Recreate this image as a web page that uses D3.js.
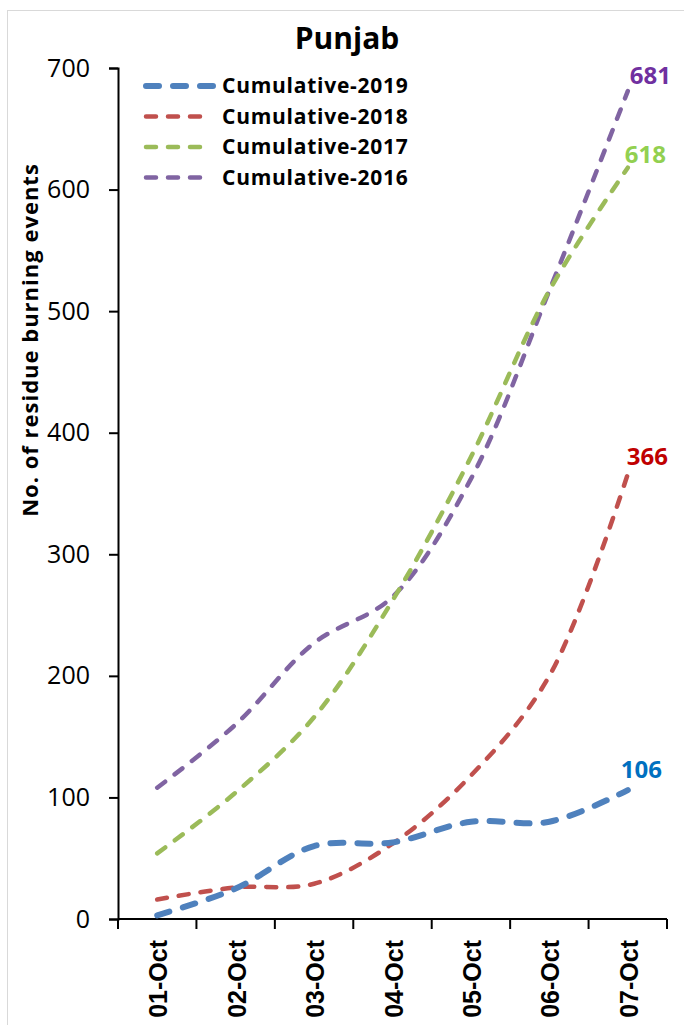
<!DOCTYPE html>
<html>
<head>
<meta charset="utf-8">
<script src="https://cdn.jsdelivr.net/npm/d3@7"></script>
<style>
  html, body { margin: 0; padding: 0; background: #fff; }
  svg { display: block; }
</style>
</head>
<body>
<svg id="chart" width="684" height="1025"></svg>
<script>
// Cumulative residue burning events, Punjab, 1–7 October
const days = ["01-Oct", "02-Oct", "03-Oct", "04-Oct", "05-Oct", "06-Oct", "07-Oct"];
const cum2019 = [3, 25, 60, 63, 80, 80, 106];
const cum2018 = [16, 26, 29, 62, 118, 200, 366];
const cum2017 = [54, 104, 166, 262, 380, 517, 618];
const cum2016 = [108, 160, 227, 265, 362, 517, 681];
const yTicks = [0, 100, 200, 300, 400, 500, 600, 700];

const FONT = "'Open Sans', 'Noto Sans', sans-serif";

const series = [
  { name: "Cumulative-2019", values: cum2019, color: "#4F81BD", label: "#0070C0", width: 6, dash: "13 14", ldx: -7, ldy: -12 },
  { name: "Cumulative-2018", values: cum2018, color: "#C0504D", label: "#C00000", width: 4.5, dash: "10 12", ldx: -1, ldy: -9 },
  { name: "Cumulative-2017", values: cum2017, color: "#9BBB59", label: "#92D050", width: 4.5, dash: "10 12", ldx: -3, ldy: -5 },
  { name: "Cumulative-2016", values: cum2016, color: "#8064A2", label: "#7030A0", width: 4.5, dash: "10 12", ldx: 2, ldy: -7 }
];

const svg = d3.select("#chart");
const plotLeft = 118, plotRight = 667, plotTop = 68, plotBottom = 919;

// outer chart frame
svg.append("rect")
  .attr("x", 7.5).attr("y", 10.5)
  .attr("width", 700).attr("height", 1030)
  .attr("fill", "none").attr("stroke", "#d9d9d9").attr("stroke-width", 1);

const x = d3.scaleBand().domain(days).range([plotLeft, plotRight]);
const y = d3.scaleLinear().domain([0, 700]).range([plotBottom, plotTop]);

// title
svg.append("text")
  .attr("x", 347).attr("y", 49)
  .attr("text-anchor", "middle")
  .attr("font-family", FONT)
  .attr("font-weight", "bold").attr("font-size", 30)
  .text("Punjab");

// y axis
const yAxis = svg.append("g")
  .attr("transform", `translate(${plotLeft},0)`)
  .call(d3.axisLeft(y).tickValues(yTicks).tickSize(9).tickPadding(19).tickFormat(d3.format("d")));
yAxis.select(".domain").attr("stroke", "#000").attr("stroke-width", 2);
yAxis.selectAll(".tick line").attr("stroke", "#000").attr("stroke-width", 2);
yAxis.selectAll(".tick text")
  .attr("font-family", FONT).attr("font-size", 25).attr("fill", "#000");

// x axis with ticks at band edges
const xAxis = svg.append("g")
  .attr("transform", `translate(0,${plotBottom})`)
  .call(d3.axisBottom(x).tickSize(0).tickPadding(0));
xAxis.select(".domain").attr("stroke", "#000").attr("stroke-width", 2).attr("d", `M${plotLeft},0H${plotRight}`);
xAxis.selectAll(".tick text").remove();
const edges = days.map(d => x(d)).concat([plotRight]);
xAxis.selectAll("line.edge").data(edges).join("line")
  .attr("class", "edge")
  .attr("x1", d => d).attr("x2", d => d)
  .attr("y1", 0).attr("y2", 10)
  .attr("stroke", "#000").attr("stroke-width", 2);
xAxis.selectAll("text.day").data(days).join("text")
  .attr("class", "day")
  .attr("transform", d => `translate(${x(d) + x.bandwidth() / 2 + 10},21) rotate(-90)`)
  .attr("text-anchor", "end")
  .attr("font-family", "'Liberation Sans', Arial, sans-serif")
  .attr("font-weight", "bold").attr("font-size", 25)
  .attr("fill", "#000")
  .text(d => d);

// y axis title
svg.append("text")
  .attr("transform", "translate(38,340) rotate(-90)")
  .attr("text-anchor", "middle")
  .attr("font-family", FONT)
  .attr("font-weight", "bold").attr("font-size", 22)
  .attr("letter-spacing", 1)
  .text("No. of residue burning events");

// lines
const cx = d => x(d) + x.bandwidth() / 2;
const line = d3.line()
  .x((v, i) => cx(days[i]))
  .y(v => y(v))
  .curve(d3.curveCatmullRom.alpha(0.5));

series.slice().reverse().forEach(s => {
  svg.append("path")
    .datum(s.values)
    .attr("d", line)
    .attr("fill", "none")
    .attr("stroke", s.color)
    .attr("stroke-width", s.width)
    .attr("stroke-dasharray", s.dash)
    .attr("stroke-linecap", "round");
});

// end-point value labels
series.forEach(s => {
  const last = s.values[s.values.length - 1];
  svg.append("text")
    .attr("x", cx(days[days.length - 1]) + s.ldx)
    .attr("y", y(last) + s.ldy)
    .attr("font-family", FONT)
    .attr("font-weight", "bold").attr("font-size", 24)
    .attr("fill", s.label)
    .text(last);
});

// legend
const legend = svg.append("g");
series.forEach((s, i) => {
  const ly = 86 + i * 30.5;
  legend.append("line")
    .attr("x1", 146).attr("x2", i === 0 ? 214 : 206)
    .attr("y1", ly).attr("y2", ly)
    .attr("stroke", s.color).attr("stroke-width", s.width)
    .attr("stroke-dasharray", s.dash).attr("stroke-linecap", "round");
  legend.append("text")
    .attr("x", 222).attr("y", ly + 7)
    .attr("font-family", FONT)
    .attr("font-weight", "bold").attr("font-size", 21)
    .attr("letter-spacing", 0.75)
    .text(s.name);
});
</script>
</body>
</html>
